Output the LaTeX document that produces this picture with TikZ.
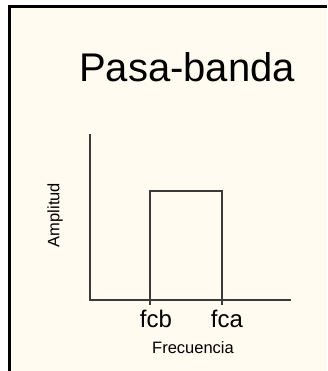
\documentclass[tikz,border=0pt]{standalone}
\usepackage{fontspec}
\setmainfont{Liberation Sans}
\definecolor{cream}{RGB}{255,251,240}
\definecolor{axisgray}{RGB}{58,58,58}
\begin{document}
\begin{tikzpicture}[x=1pt,y=-1pt,
  axisline/.style={draw=axisgray,line width=1.8pt},
  lbl/.style={inner sep=0pt,anchor=base,text=black}]
\useasboundingbox (0,0) rectangle (327,371);
\fill[white] (0,0) rectangle (327,371);
\fill[cream] (9,6) rectangle (327,371);
\draw[black,line width=3pt] (9.5,371) -- (9.5,6.5) -- (327,6.5);
% axes
\coordinate (ytop) at (90,135);
\coordinate (O) at (90,300);
\coordinate (xend) at (290,300);
\coordinate (b1) at (150,305);
\coordinate (b2) at (150,191);
\coordinate (a2) at (222,191);
\coordinate (a1) at (222,305);
\draw[axisline,line cap=rect] (ytop) -- (O) -- (xend);
\draw[axisline,line join=miter] (b1) -- (b2) -- (a2) -- (a1);
% texts
\node[lbl,font=\fontsize{40}{40}\selectfont] (title) at (187,82) {Pasa-banda};
\node[lbl,font=\fontsize{24}{24}\selectfont] (fcb) at (156,327) {fcb};
\node[lbl,font=\fontsize{24}{24}\selectfont] (fca) at (227,327) {fca};
\node[lbl,font=\fontsize{16.5}{16.5}\selectfont] (frec) at (193,353) {Frecuencia};
\node[inner sep=0pt,rotate=90,font=\fontsize{16.5}{16.5}\selectfont] (ampl) at (55,215) {Amplitud};
\end{tikzpicture}
\end{document}
